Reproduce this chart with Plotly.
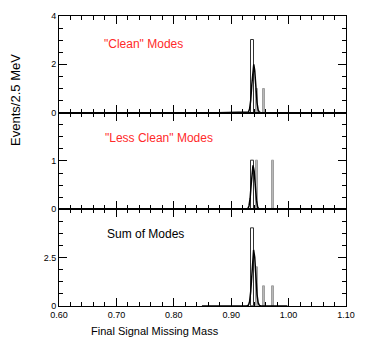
import plotly.graph_objects as go
from plotly.subplots import make_subplots

# ---- data ----
# black open histogram bins (center, height), bin width 5 MeV
p1_black_x = [0.9375]; p1_black_y = [3]
p2_black_x = [0.9375]; p2_black_y = [1]
p3_black_x = [0.9375]; p3_black_y = [4]

# grey histogram bins
p1_grey_x = [0.9452, 0.9565]; p1_grey_y = [1, 1]
p2_grey_x = [0.9453, 0.9735]; p2_grey_y = [1, 1]
p3_grey_x = [0.9453, 0.9565, 0.9735]; p3_grey_y = [2, 1, 1]

# fitted signal curves
p1_curve_x = [0.877, 0.927, 0.930, 0.932, 0.934, 0.936, 0.938, 0.9393, 0.941, 0.943, 0.945, 0.947, 0.949, 0.952, 0.973]
p1_curve_y = [0, 0, 0.03, 0.15, 0.51, 1.18, 1.70, 2.0, 1.74, 1.03, 0.41, 0.11, 0.02, 0, 0]
p2_curve_x = [0.860, 0.926, 0.929, 0.931, 0.933, 0.935, 0.937, 0.938, 0.940, 0.942, 0.944, 0.946, 0.948, 0.951, 0.992]
p2_curve_y = [0, 0, 0.014, 0.07, 0.23, 0.54, 0.77, 0.91, 0.79, 0.47, 0.19, 0.05, 0.01, 0, 0]
p3_curve_x = [0.849, 0.927, 0.930, 0.932, 0.934, 0.936, 0.938, 0.939, 0.941, 0.943, 0.945, 0.947, 0.949, 0.952, 0.998]
p3_curve_y = [0, 0, 0.04, 0.22, 0.74, 1.71, 2.47, 2.9, 2.52, 1.49, 0.59, 0.16, 0.03, 0, 0]

panel_labels = ['"Clean" Modes', '"Less Clean" Modes', 'Sum of Modes']
panel_label_colors = ['#ff2a2a', '#ff2a2a', 'black']
y_ranges = [[0, 4], [0, 2], [0, 5]]
y_major_step = [2, 1, 2.5]
y_minor_step = [0.5, 0.25, 0.625]
y_hidden_top_label = [{}, {"2": " "}, {"5": " "}]

FONT = "Liberation Sans, Arial, Helvetica, sans-serif"

fig = make_subplots(rows=3, cols=1, shared_xaxes=True, vertical_spacing=0)

panels = [
    (p1_black_x, p1_black_y, p1_grey_x, p1_grey_y, p1_curve_x, p1_curve_y),
    (p2_black_x, p2_black_y, p2_grey_x, p2_grey_y, p2_curve_x, p2_curve_y),
    (p3_black_x, p3_black_y, p3_grey_x, p3_grey_y, p3_curve_x, p3_curve_y),
]
for i, (bx, by, gx, gy, cx, cy) in enumerate(panels, start=1):
    fig.add_trace(go.Bar(x=gx, y=gy, width=0.0035, marker=dict(color="#b8b8b8", line=dict(color="#a0a0a0", width=1)),
                         showlegend=False), row=i, col=1)
    fig.add_trace(go.Bar(x=bx, y=by, width=0.005, marker=dict(color="rgba(0,0,0,0)", line=dict(color="#333333", width=1)),
                         showlegend=False), row=i, col=1)
    fig.add_trace(go.Scatter(x=cx, y=cy, mode="lines", line=dict(color="black", width=1.5),
                             showlegend=False), row=i, col=1)

for i in range(1, 4):
    fig.update_yaxes(range=y_ranges[i-1], tickmode="linear", tick0=0, dtick=y_major_step[i-1],
                     labelalias=y_hidden_top_label[i-1],
                     ticks="inside", ticklen=8, tickwidth=1, tickcolor="black",
                     minor=dict(dtick=y_minor_step[i-1], tick0=0, ticks="inside", ticklen=4, tickwidth=1,
                                tickcolor="black", showgrid=False),
                     showline=True, linecolor="black", linewidth=1, mirror="allticks",
                     showgrid=False, zeroline=False, tickfont=dict(size=9, family=FONT, color="black"),
                     row=i, col=1)
    fig.update_xaxes(range=[0.6, 1.1], tickmode="linear", tick0=0.6, dtick=0.1, tickformat=".2f",
                     ticks="inside", ticklen=8, tickwidth=1, tickcolor="black",
                     minor=dict(dtick=0.02, tick0=0.6, ticks="inside", ticklen=4, tickwidth=1,
                                tickcolor="black", showgrid=False),
                     showline=True, linecolor="black", linewidth=1, mirror="allticks",
                     showgrid=False, zeroline=False, showticklabels=(i == 3),
                     tickfont=dict(size=9, family=FONT, color="black"),
                     row=i, col=1)

ann = []
label_pos = [(0.149, 0.902), (0.155, 0.580), (0.162, 0.247)]
for (lx, ly), txt, col in zip(label_pos, panel_labels, panel_label_colors):
    ann.append(dict(x=lx, y=ly, xref="paper", yref="paper", text=txt, showarrow=False,
                    xanchor="left", yanchor="middle", font=dict(size=12, color=col, family=FONT)))
ann.append(dict(x=-0.152, y=0.712, xref="paper", yref="paper", text="Events/2.5 MeV", textangle=-90,
                showarrow=False, xanchor="center", yanchor="middle", font=dict(size=13, color="black", family=FONT)))
ann.append(dict(x=0.334, y=-0.085, xref="paper", yref="paper", text="Final Signal Missing Mass",
                showarrow=False, xanchor="center", yanchor="middle", font=dict(size=11, color="black", family=FONT)))

fig.update_layout(width=366, height=338, margin=dict(l=59, r=11, t=11, b=32),
                  paper_bgcolor="white", plot_bgcolor="white", barmode="overlay", bargap=0,
                  font=dict(family=FONT, color="black"), annotations=ann)

fig.write_html("out.html")
